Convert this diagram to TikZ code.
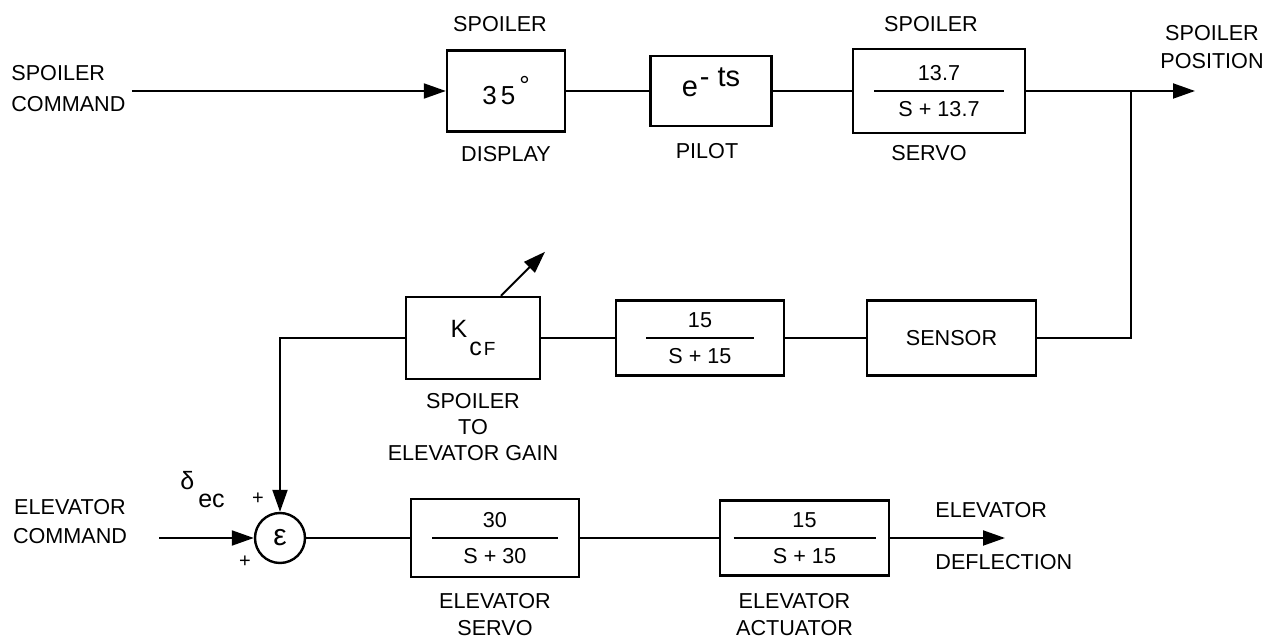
\documentclass[tikz,border=0pt]{standalone}
\usepackage{fontspec}
\setmainfont{Liberation Sans}
\usetikzlibrary{arrows.meta,positioning}

% stacked fraction with a bar of given width
\newcommand{\frc}[3]{\vbox{\hsize=#1\parindent=0pt\centering
  \baselineskip=0pt\lineskip=4.5pt\lineskiplimit=0pt
  #2\par\rule{#1}{1.2pt}\par #3\par}}

\begin{document}
\begin{tikzpicture}[
    x=0.5pt,y=0.5pt,
    font=\fontsize{10.8}{14}\selectfont,
    blk/.style={draw,line width=1.2pt,inner sep=0pt},
    sumc/.style={circle,draw,line width=1.2pt,minimum size=25pt,inner sep=0pt,
                 font=\fontsize{15}{15}\selectfont},
    lbl/.style={inner sep=1pt,align=center},
    sgn/.style={inner sep=0pt,font=\fontsize{10}{10}\selectfont},
    wire/.style={line width=1pt},
    arr/.style={wire,-{Triangle[length=11pt,width=7.5pt]}}
  ]
    \useasboundingbox (0,0) rectangle (1276,-640);

    % spoiler loop
    \node[blk,minimum width=59pt,minimum height=40.5pt,font=\fontsize{13}{13}\selectfont]
      (disp) at (506,-91) {3\hspace{2pt}5\hspace{2pt}\raisebox{5pt}{°}};
    \node[blk,minimum width=60.5pt,minimum height=35pt,text height=6pt,text depth=0pt,
      font=\fontsize{14.5}{14.5}\selectfont]
      (pilot) at (711,-91) {e\raisebox{5pt}{\hspace{1pt}-\hspace{4pt}ts}};
    \node[blk,minimum width=86pt,minimum height=42pt] (sservo) at (939,-91)
      {\frc{65pt}{13.7}{S + 13.7}};

    \node[lbl,above=7.8pt of disp,xshift=-3pt] (dispT) {SPOILER};
    \node[lbl,below=5.8pt of disp] (dispB) {DISPLAY};
    \node[lbl,below=7pt of pilot,xshift=-2pt] (pilotB) {PILOT};
    \node[lbl,above=7pt of sservo,xshift=-4pt] (sservoT) {SPOILER};
    \node[lbl,below=4.5pt of sservo,xshift=-5pt] (sservoB) {SERVO};

    \node[lbl,anchor=west,align=left,inner sep=3pt,font=\fontsize{10.8}{15.5}\selectfont]
      (scmd) at (5,-89) {SPOILER\\COMMAND};
    \node[lbl] (spos) at (1212,-47) {SPOILER\\POSITION};
    \coordinate (branch) at (1131,-91);
    \coordinate (spout) at (1195,-91);

    % feedback path
    \node[blk,minimum width=67pt,minimum height=41pt,font=\fontsize{12.5}{12.5}\selectfont]
      (kcf) at (473,-338) {K\raisebox{-9pt}{\hspace{1pt}c\hspace{1pt}\fontsize{9.5}{9.5}\selectfont F}};
    \node[blk,minimum width=84pt,minimum height=37.5pt] (filt) at (700,-338)
      {\frc{54pt}{15}{S + 15}};
    \node[blk,minimum width=84.5pt,minimum height=37.5pt] (sensor) at (951.5,-338) {SENSOR};
    \node[lbl,below=5.5pt of kcf,font=\fontsize{10.8}{13}\selectfont] (kcfB)
      {SPOILER\\TO\\ELEVATOR GAIN};
    \coordinate (gaintip) at ([shift={(72,44)}]kcf.north);

    % elevator loop
    \node[sumc] (sum) at (280,-538) {ε};
    \node[blk,minimum width=84pt,minimum height=39pt] (eservo) at (495,-538)
      {\frc{63pt}{30}{S + 30}};
    \node[blk,minimum width=84.5pt,minimum height=37.5pt] (eact) at (804.5,-538)
      {\frc{71pt}{15}{S + 15}};
    \node[lbl,below=6.5pt of eservo,font=\fontsize{10.8}{13.5}\selectfont] (eservoB)
      {ELEVATOR\\SERVO};
    \node[lbl,below=7pt of eact,xshift=-5pt,font=\fontsize{10.8}{13.5}\selectfont] (eactB)
      {ELEVATOR\\ACTUATOR};

    \node[lbl,font=\fontsize{10.8}{14.5}\selectfont] (ecmd) at (70,-522) {ELEVATOR\\COMMAND};
    \node[lbl,anchor=base west,font=\fontsize{12.5}{12.5}\selectfont] (dec) at (178,-490)
      {δ\hspace{2pt}\raisebox{-9pt}{ec}};
    \node[sgn] (plusT) at (258,-499) {+};
    \node[sgn] (plusB) at (245,-562) {+};
    \node[lbl,anchor=west] (edefT) at (933,-510) {ELEVATOR};
    \node[lbl,anchor=west] (edefB) at (933,-562) {DEFLECTION};
    \coordinate (ein) at (159,-538);
    \coordinate (eout) at (1005,-538);

    \draw[arr] (scmd.east |- disp.west) -- (disp.west);
    \draw[wire] (disp) -- (pilot);
    \draw[wire] (pilot) -- (sservo);
    \draw[arr] (sservo) -- (spout);
    \draw[wire] (sensor) -| (branch);
    \draw[wire] (sensor) -- (filt);
    \draw[wire] (filt) -- (kcf);
    \draw[arr] (kcf) -| (sum);
    \draw[arr] ([xshift=14pt]kcf.north) -- (gaintip);
    \draw[arr] (ein) -- (sum);
    \draw[wire] (sum) -- (eservo);
    \draw[wire] (eservo) -- (eact);
    \draw[arr] (eact) -- (eout);
\end{tikzpicture}
\end{document}
